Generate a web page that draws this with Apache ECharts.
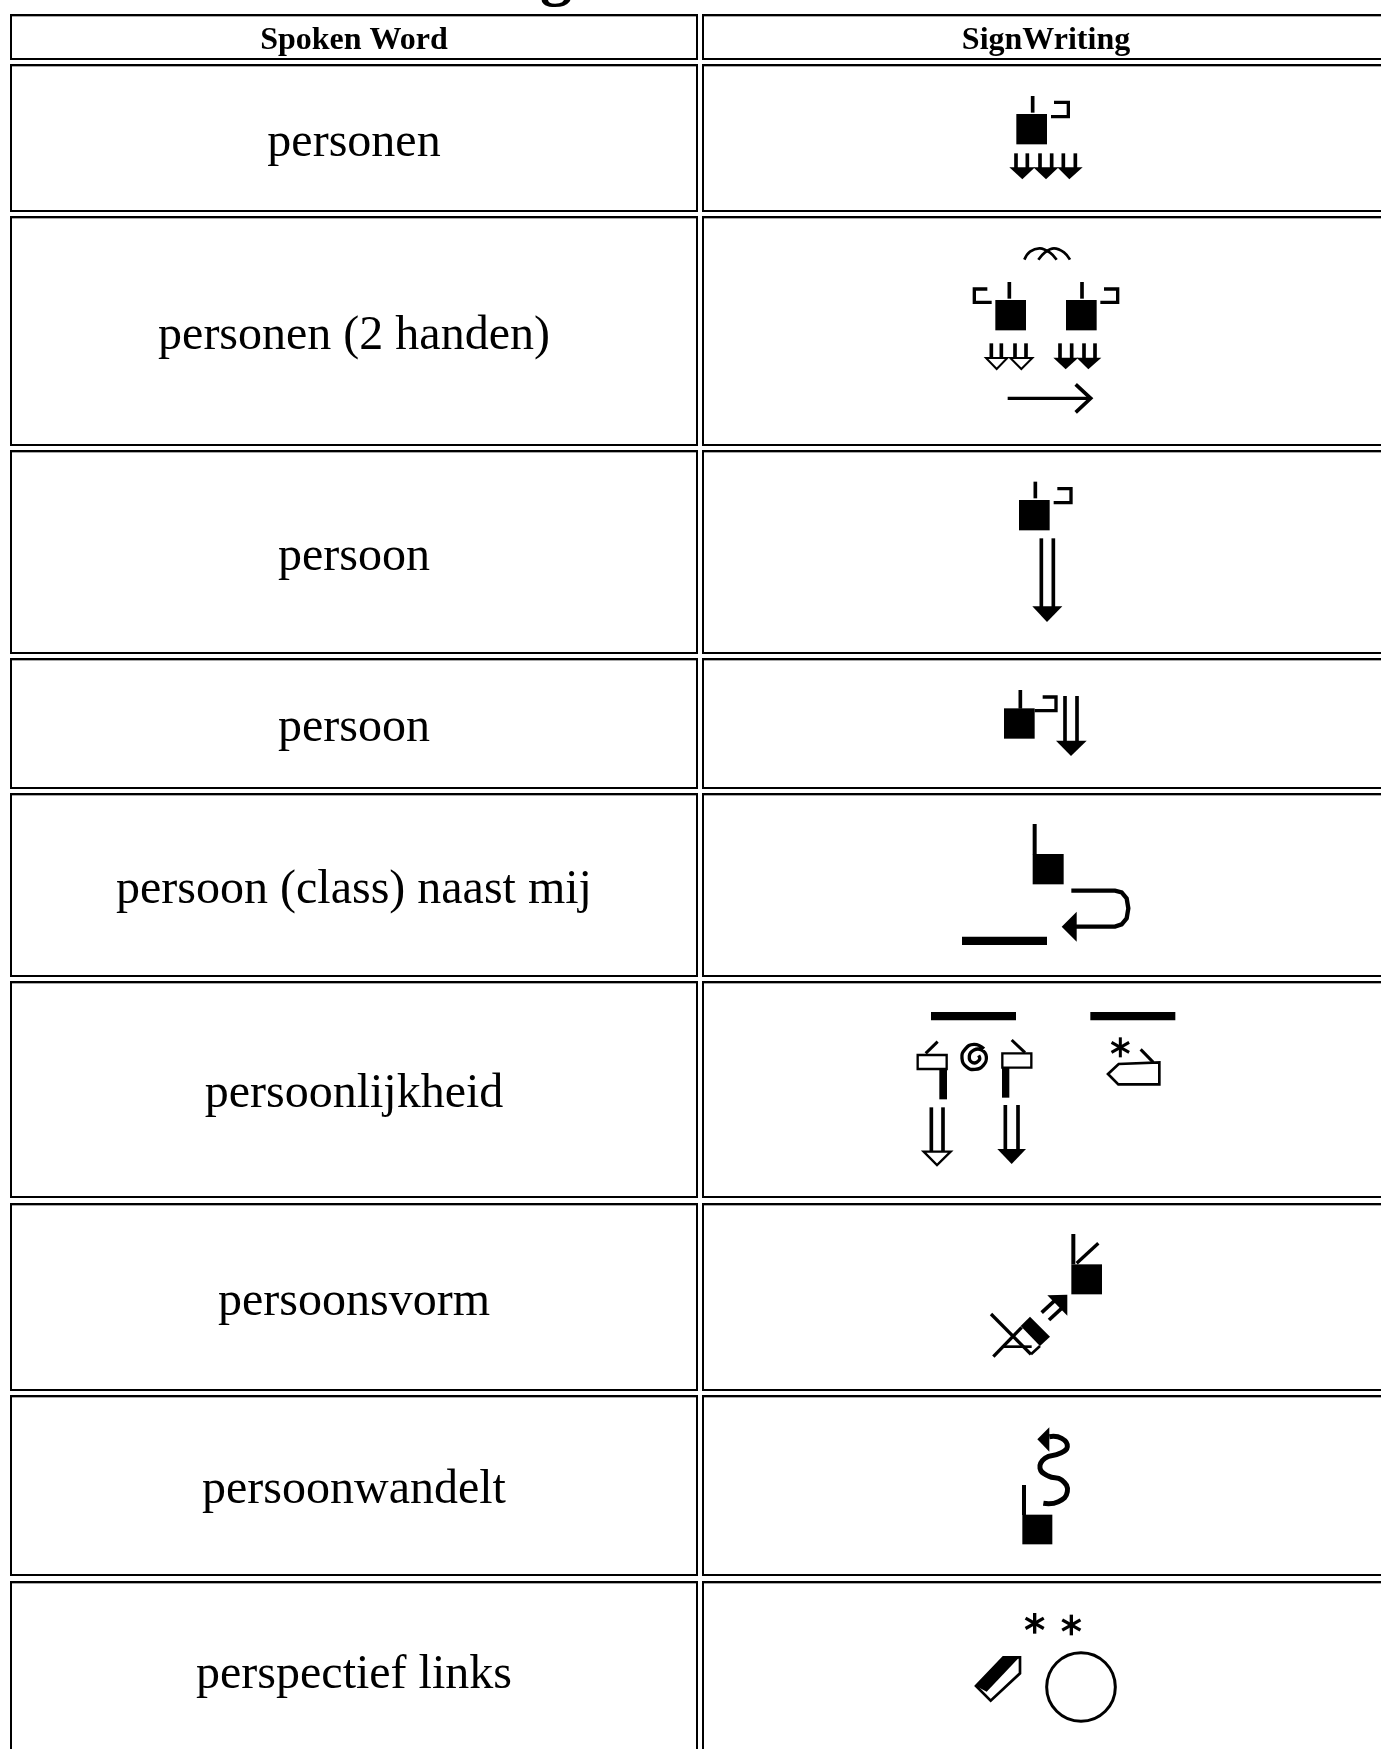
<!DOCTYPE html>
<html><head><meta charset="utf-8">
<style>html,body{margin:0;padding:0;background:#fff}#c{width:1381px;height:1749px}</style>
<script src="https://cdn.jsdelivr.net/npm/echarts@6/dist/echarts.min.js"></script>
</head><body><div id="c"></div>
<script>
const headers = ['Spoken Word', 'SignWriting'];
const words = ['personen','personen (2 handen)','persoon','persoon','persoon (class) naast mij','persoonlijkheid','persoonsvorm','persoonwandelt','perspectief links'];
const rowTop = [64,216,450,658,793,981,1203,1395,1581];
const rowBottom = [212,446,654,789,977,1198,1391,1576,1760];
const headerTop = 14, headerBottom = 60;
const colLeft = [10,702], colRight = [698,1390];
const titleFragment = 'g';

// Glyph primitives, in a local drawing space three times larger than the page.
const K='#000';
const box=(x0,y0,x1,y1)=>({type:'rect',shape:{x:x0,y:y0,width:x1-x0,height:y1-y0},style:{fill:K}});
const line=(pts,w,smooth)=>({type:'polyline',shape:{points:pts,smooth:smooth||0},style:{fill:null,stroke:K,lineWidth:w+3}});
const poly=(pts)=>({type:'polygon',shape:{points:pts},style:{fill:K}});
const hollow=(pts,w)=>({type:'polygon',shape:{points:pts},style:{fill:'#fff',stroke:K,lineWidth:w+1}});
const ring=(cx,cy,r,w)=>({type:'circle',shape:{cx,cy,r},style:{fill:null,stroke:K,lineWidth:w+1}});
const star=(x,y,r,w)=>[line([[x,y-r],[x,y+r]],w),line([[x-r*.88,y-r*.5],[x+r*.88,y+r*.5]],w),line([[x-r*.88,y+r*.5],[x+r*.88,y-r*.5]],w)];
const stems=(a,b,y0,y1,w)=>[line([[a,y0],[a,y1]],w),line([[b,y0],[b,y1]],w)];

const glyphs = [
 {dx:-146,dy:6,parts:[
  box(349,132,441,223),line([[398,78],[398,128]],8),line([[453,140],[505,140],[505,97],[462,97]],7),
  ...stems(348,382,250,296,8),...stems(420,455,250,296,8),...stems(490,526,250,296,8),
  poly([[328,292],[405,292],[367,328]]),poly([[400,292],[476,292],[438,328]]),poly([[472,292],[548,292],[508,328]])]},
 {dx:-146,dy:-146,parts:[
  line([[373,569],[390,545],[420,535],[450,548],[470,569]],5,.4),line([[415,569],[435,547],[462,535],[492,547],[510,569]],5,.4),
  box(286,690,378,781),line([[328,636],[328,686]],8),line([[275,697],[223,697],[223,657],[262,657]],7),
  box(498,690,590,781),line([[546,636],[546,686]],8),line([[601,697],[653,697],[653,657],[612,657]],7),
  ...stems(274,304,820,866,8),...stems(345,378,820,866,8),
  hollow([[258,864],[322,864],[290,897]],5),hollow([[331,864],[397,864],[364,897]],5),
  ...stems(480,515,820,866,8),...stems(552,585,820,866,8),
  poly([[460,863],[535,863],[497,898]]),poly([[530,863],[604,863],[565,898]]),
  line([[323,985],[565,985]],7),line([[527,943],[572,985],[527,1027]],8)]},
 {dx:-106,dy:20,parts:[
  box(237,90,329,181),line([[286,35],[286,85]],8),line([[341,98],[393,98],[393,56],[352,56]],7),
  ...stems(304,340,205,415,8),poly([[277,409],[367,409],[321,456]])]},
 {dx:-106,dy:-188,parts:[
  box(192,715,284,806),line([[241,660],[241,716]],8),line([[284,722],[348,722],[348,681],[308,681]],7),
  ...stems(375,411,678,818,8),poly([[348,812],[440,812],[393,858]])]},
 {dx:-146,dy:17,parts:[
  box(398,132,491,223),line([[404,42],[404,133]],9),box(186,380,441,405),
  line([[514,242],[645,242],[665,247],[680,265],[685,295],[680,325],[665,343],[645,350],[525,350]],10),
  poly([[485,350],[530,305],[530,395]])]},
 {dx:-146,dy:19,parts:[
  box(93,36,348,61),box(571,36,826,61),
  hollow([[53,165],[140,165],[140,207],[53,207]],6),line([[77,160],[113,125]],6),box(118,207,141,298),
  line([[252,146],[222,133],[195,148],[186,175],[200,201],[225,208],[250,196],[259,170],[245,150],[222,150],[208,168],[218,188],[238,180],[236,166]],7,.5),
  hollow([[307,160],[394,160],[394,203],[307,203]],6),line([[375,158],[335,120]],6),box(306,203,328,293),
  ...stems(94,129,322,458,8),hollow([[71,455],[152,455],[111,495]],6),
  ...stems(316,354,315,452,8),poly([[292,447],[378,447],[335,492]]),
  ...star(661,142,30,6),
  hollow([[624,222],[656,192],[778,187],[778,253],[655,253]],7),line([[722,148],[760,187]],6)]},
 {dx:-96,dy:17,parts:[
  box(364,133,456,223),line([[370,42],[370,133]],9),line([[380,130],[445,70]],7),
  line([[275,278],[318,238]],8),line([[297,300],[338,262]],8),poly([[352,224],[352,287],[292,226]]),
  line([[123,282],[243,403]],7),line([[130,410],[215,322]],7),line([[160,380],[245,380]],5),
  line([[270,378],[243,403]],5),poly([[240,290],[300,350],[270,378],[212,318]])]},
 {dx:-96,dy:-175,parts:[
  box(217,884,307,973),line([[222,795],[222,885]],9),
  line([[280,850],[325,845],[352,815],[335,780],[295,768],[270,745],[285,715],[330,700],[352,680],[335,655],[298,650]],12,.5),
  poly([[262,658],[298,622],[298,695]])]},
 {dx:-96,dy:-1,parts:[
  ...star(254,130,31,7),...star(364,135,31,7),ring(393,321,103,8),
  hollow([[78,318],[160,232],[210,232],[210,280],[122,362]],7),
  poly([[78,318],[160,232],[208,232],[110,335]])]}
];

const TF='"Liberation Serif","Times New Roman",serif';
const rows = words.map((w,i)=>[i,rowTop[i],rowBottom[i]]);
rows.unshift([-1,headerTop,headerBottom]);

function renderRow(params, api){
  const i=api.value(0), top=api.value(1), bottom=api.value(2);
  const kids=[];
  [0,1].forEach(c=>{
    const a=api.coord([colLeft[c],top]), b=api.coord([colRight[c],bottom]);
    const W=b[0]-a[0], H=b[1]-a[1];
    kids.push({type:'rect',shape:{x:a[0]+2,y:a[1]+2,width:W-4,height:1},style:{fill:'#a8a8a8'}});
    kids.push({type:'rect',shape:{x:a[0]+1,y:a[1]+1,width:W-2,height:H-2},style:{fill:null,stroke:'#000',lineWidth:2}});
  });
  const mid=(top+bottom)/2;
  const cx=[(colLeft[0]+colRight[0])/2,(colLeft[1]+colRight[1])/2];
  const put=(c,txt,font,off)=>{const p=api.coord([cx[c],mid+off]);
    kids.push({type:'text',style:{x:p[0],y:p[1],text:txt,font,fill:'#000',align:'center',verticalAlign:'middle'}});};
  if(i<0){ put(0,headers[0],'bold 32px '+TF,4); put(1,headers[1],'bold 32px '+TF,4); }
  else {
    put(0,words[i],'48px '+TF,5);
    const g=glyphs[i], p=api.coord([cx[1]+g.dx,top+g.dy]);
    kids.push({type:'group',x:p[0],y:p[1],scaleX:1/3,scaleY:1/3,children:g.parts});
  }
  return {type:'group',children:kids};
}
function renderTitle(params, api){
  const p=api.coord([api.value(0),api.value(1)]);
  return {type:'text',style:{x:p[0],y:p[1],text:titleFragment,font:'bold 64px '+TF,fill:'#000',align:'center',verticalAlign:'bottom'}};
}

const chart=echarts.init(document.getElementById('c'),null,{renderer:'canvas'});
chart.setOption({
  animation:false,backgroundColor:'#fff',
  grid:{left:0,right:0,top:0,bottom:0,containLabel:false},
  xAxis:{type:'value',min:0,max:1381,show:false},
  yAxis:{type:'value',min:0,max:1749,inverse:true,show:false},
  series:[
   {type:'custom',silent:true,clip:false,coordinateSystem:'cartesian2d',data:rows,encode:{x:0,y:1},renderItem:renderRow},
   {type:'custom',silent:true,clip:false,coordinateSystem:'cartesian2d',data:[[556,8]],encode:{x:0,y:1},renderItem:renderTitle}
  ]
});
</script></body></html>
